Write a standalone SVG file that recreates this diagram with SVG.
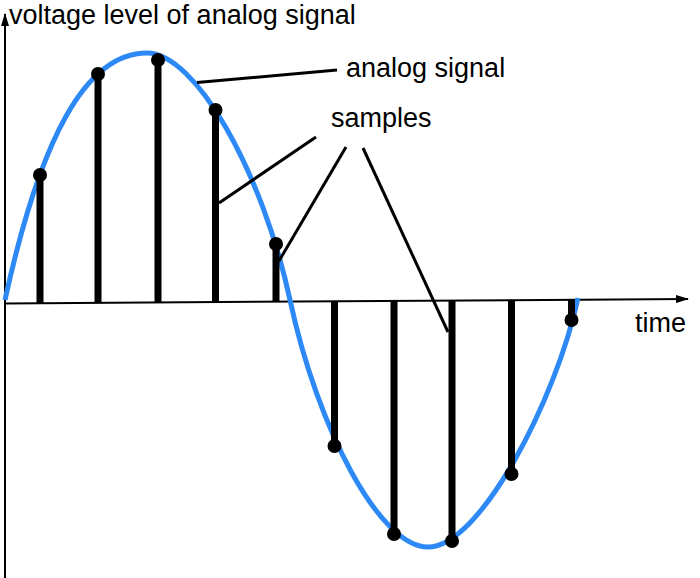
<svg xmlns="http://www.w3.org/2000/svg" width="700" height="578" viewBox="0 0 700 578">
<defs>
<marker id="arr" markerWidth="13" markerHeight="8" refX="12" refY="4" orient="auto" markerUnits="userSpaceOnUse">
<path d="M0,0 L13,4 L0,8 Z" fill="#000"/>
</marker>
</defs>
<style>
.axis{stroke:#000;stroke-width:2;fill:none}
.sig{stroke:#2d89f5;stroke-width:5;fill:none}
.bar{stroke:#000;stroke-width:7}
.dot{fill:#000}
.lead{stroke:#000;stroke-width:3;fill:none}
text{font-family:"Liberation Sans",Arial,sans-serif;font-size:27px;fill:#000}
</style>
<rect width="700" height="578" fill="#fff"/>
<g id="axes">
<line class="axis" x1="5" y1="578" x2="5" y2="14" marker-end="url(#arr)"/>
<line class="axis" x1="5" y1="303.5" x2="688" y2="299" marker-end="url(#arr)"/>
</g>
<g id="signal">
<path class="sig" d="M5,300 C40,140 85,53 147,53 C195,53 262,170 290,300 C318,430 380,547 428,547 C480,547 556,400 578,298"/>
</g>
<g id="samples">
<line class="bar" x1="40" y1="303" x2="40" y2="175"/><circle class="dot" cx="40" cy="175" r="7"/>
<line class="bar" x1="98" y1="303" x2="98" y2="74"/><circle class="dot" cx="98" cy="74" r="7"/>
<line class="bar" x1="158" y1="302.5" x2="158" y2="60"/><circle class="dot" cx="158" cy="60" r="7"/>
<line class="bar" x1="215.5" y1="302" x2="215.5" y2="110"/><circle class="dot" cx="215.5" cy="110" r="7"/>
<line class="bar" x1="276" y1="302" x2="276" y2="244"/><circle class="dot" cx="276" cy="244" r="7"/>
<line class="bar" x1="334.5" y1="301" x2="334.5" y2="446"/><circle class="dot" cx="334.5" cy="446" r="7"/>
<line class="bar" x1="394" y1="301" x2="394" y2="534"/><circle class="dot" cx="394" cy="534" r="7"/>
<line class="bar" x1="452" y1="300.5" x2="452" y2="541"/><circle class="dot" cx="452" cy="541" r="7"/>
<line class="bar" x1="511.5" y1="300" x2="511.5" y2="474"/><circle class="dot" cx="511.5" cy="474" r="7"/>
<line class="bar" x1="571.5" y1="299.5" x2="571.5" y2="320"/><circle class="dot" cx="571.5" cy="320" r="7"/>
</g>
<g id="connectors">
<line class="lead" x1="197" y1="82.5" x2="337" y2="70"/>
<line class="lead" x1="316" y1="137" x2="219" y2="203"/>
<line class="lead" x1="346" y1="147" x2="279" y2="261"/>
<line class="lead" x1="363" y1="148" x2="448" y2="332"/>
</g>
<g id="labels">
<text x="9" y="24">voltage level of analog signal</text>
<text x="346" y="77">analog signal</text>
<text x="331" y="127">samples</text>
<text x="635" y="332">time</text>
</g>
</svg>
